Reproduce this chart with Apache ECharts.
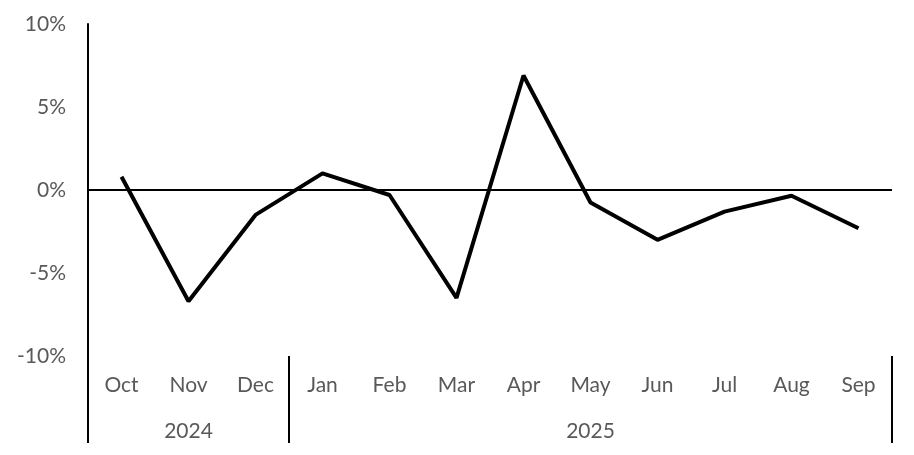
<!DOCTYPE html>
<html>
<head>
<meta charset="utf-8">
<script src="https://cdn.jsdelivr.net/npm/echarts@6/dist/echarts.min.js"></script>
<style>html,body{margin:0;padding:0;background:#fff}#c{width:914px;height:455px}</style>
</head>
<body>
<div id="c"></div>
<script>
var months = ['Oct','Nov','Dec','Jan','Feb','Mar','Apr','May','Jun','Jul','Aug','Sep'];
var years = ['2024','2024','2024','2025','2025','2025','2025','2025','2025','2025','2025','2025'];
var yearLabelIdx = [1, 7];
var yearStartIdx = [0, 3];
var values = [0.8, -6.7, -1.5, 1.0, -0.3, -6.5, 6.9, -0.75, -3.0, -1.3, -0.35, -2.3];
var yTicks = { min: -10, max: 10, interval: 5 };

var txt = { color: '#595959', fontFamily: 'Lato', fontSize: 21 };
var chart = echarts.init(document.getElementById('c'));
chart.setOption({
  animation: false,
  grid: { left: 88, right: 22, top: 24, bottom: 99, containLabel: false },
  xAxis: [
    {
      type: 'category', data: months, position: 'bottom', boundaryGap: true,
      axisLine: { show: false }, axisTick: { show: false },
      axisLabel: Object.assign({ margin: 19, interval: 0 }, txt),
      splitLine: { show: false }
    },
    {
      type: 'category', data: years, position: 'bottom', boundaryGap: true,
      axisLine: { show: false },
      axisTick: { show: true, length: 87, lineStyle: { color: '#000', width: 2 },
        interval: function (i) { return yearStartIdx.indexOf(i) >= 0 || i === years.length; } },
      axisLabel: Object.assign({ margin: 65, interval: function (i) { return yearLabelIdx.indexOf(i) >= 0; } }, txt),
      splitLine: { show: false }
    }
  ],
  yAxis: {
    type: 'value', min: yTicks.min, max: yTicks.max, interval: yTicks.interval,
    axisLine: { show: true, lineStyle: { color: '#000', width: 2 } },
    axisTick: { show: false },
    splitLine: { show: false },
    axisLabel: Object.assign({ margin: 22, formatter: '{value}%' }, txt)
  },
  series: [{
    type: 'line', data: values, xAxisIndex: 0, symbol: 'none',
    lineStyle: { color: '#000', width: 4 },
    markLine: {
      silent: true, symbol: 'none', label: { show: false },
      lineStyle: { color: '#000', width: 2, type: 'solid' },
      data: [{ yAxis: 0 }]
    }
  }]
});
</script>
</body>
</html>
